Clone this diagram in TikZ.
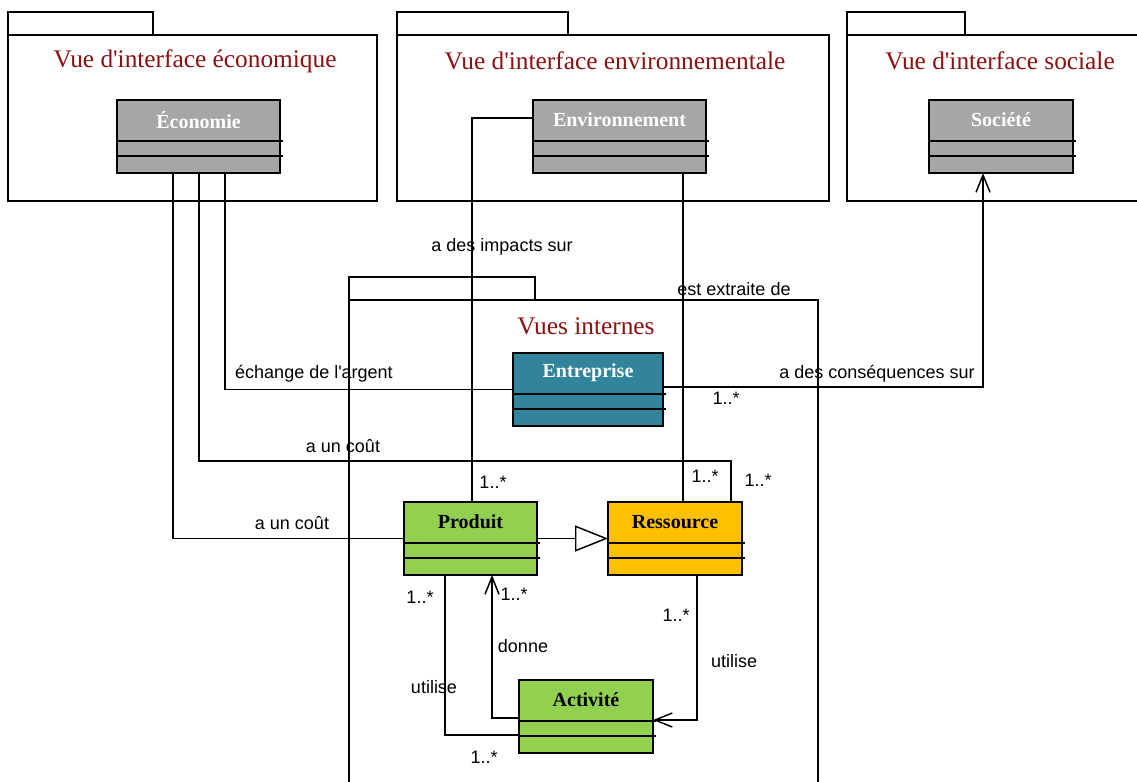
\documentclass[tikz,border=0pt]{standalone}
\usepackage{fontspec}
\setmainfont{Liberation Serif}
\setsansfont{Liberation Sans}
\usetikzlibrary{arrows.meta}

\definecolor{titlered}{RGB}{140,16,16}
\definecolor{greyfill}{RGB}{166,166,166}
\definecolor{tealfill}{RGB}{49,132,155}
\definecolor{greenfill}{RGB}{146,208,80}
\definecolor{amberfill}{RGB}{255,192,0}

\begin{document}
\begin{tikzpicture}[
        x=0.75pt, y=-0.75pt,
        line width=1.1pt,
        every node/.style={inner sep=0pt, outer sep=0pt}
    ]
    \tikzset{
        pkgbody/.style = {draw, rectangle, anchor=north west, minimum height=124.5pt},
        pkgtab/.style = {draw, rectangle, anchor=south west, minimum height=17.25pt},
        pkgtitle/.style = {text=titlered, font=\fontsize{19}{22}\selectfont},
        classbox/.style = {draw, rectangle, anchor=north west, minimum height=54.75pt},
        classtitle/.style = {font=\fontsize{15}{18}\selectfont\bfseries},
        lbl/.style = {font=\sffamily\fontsize{13.5}{16}\selectfont},
        assoc/.style = {-{Straight Barb[length=13pt,width=10.5pt]}},
        generalise/.style = {-{Triangle[open,length=24.75pt,width=19.5pt]}},
    }
    \useasboundingbox (0,0) rectangle (1137,781);

    % packages
    \node[pkgbody, minimum width=276.75pt] (ecoP) at (8,35) {};
    \node[pkgtab, minimum width=108.75pt] (ecoP-tab) at (ecoP.north west) {};
    \node[pkgtitle] (ecoP-t) at (195,61) {Vue d\textquotesingle interface économique};

    \node[pkgbody, minimum width=324pt] (envP) at (397,35) {};
    \node[pkgtab, minimum width=128.25pt] (envP-tab) at (envP.north west) {};
    \node[pkgtitle] (envP-t) at (615,61) {Vue d\textquotesingle interface environnementale};

    \node[pkgbody, minimum width=219.75pt] (socP) at (847,35) {};
    \node[pkgtab, minimum width=88.5pt] (socP-tab) at (socP.north west) {};
    \node[pkgtitle] (socP-t) at (1000,61) {Vue d\textquotesingle interface sociale};

    \node[pkgbody, minimum width=351.75pt, minimum height=363.75pt] (intP) at (349,300) {};
    \node[pkgtab, minimum width=139.5pt] (intP-tab) at (intP.north west) {};
    \node[pkgtitle] (intP-t) at (586,326) {Vues internes};

    % classes
    \node[classbox, fill=greyfill, minimum width=122.25pt] (eco) at (117,100) {};
    \node[classtitle, text=white] (eco-t) at ([yshift=-15pt]eco.north) {Économie};
    \node[classbox, fill=greyfill, minimum width=129.75pt] (env) at (533,100) {};
    \node[classtitle, text=white] (env-t) at ([yshift=-15pt]env.north) {Environnement};
    \node[classbox, fill=greyfill, minimum width=108pt] (soc) at (929,100) {};
    \node[classtitle, text=white] (soc-t) at ([yshift=-15pt]soc.north) {Société};
    \node[classbox, fill=tealfill, minimum width=112.5pt] (ent) at (513,353) {};
    \node[classtitle, text=white] (ent-t) at ([yshift=-15pt]ent.north) {Entreprise};
    \node[classbox, fill=greenfill, minimum width=99.75pt] (prod) at (404,502) {};
    \node[classtitle] (prod-t) at ([yshift=-15pt]prod.north) {Produit};
    \node[classbox, fill=amberfill, minimum width=100.5pt] (res) at (608,502) {};
    \node[classtitle] (res-t) at ([yshift=-15pt]res.north) {Ressource};
    \node[classbox, fill=greenfill, minimum width=100.5pt] (act) at (519,680) {};
    \node[classtitle] (act-t) at ([yshift=-15pt]act.north) {Activité};

    \foreach \c in {eco,env,soc,ent,prod,res,act} {
        \draw ([yshift=-30.75pt]\c.north west) -- ([xshift=2pt,yshift=-30.75pt]\c.north east);
        \draw ([yshift=-42pt]\c.north west) -- ([xshift=2pt,yshift=-42pt]\c.north east);
    }

    % connectors
    \draw ([xshift=42pt]eco.south west) |- (prod.west);
    \draw ([xshift=61.5pt]eco.south west) -- ++(0,288) -| ([xshift=-8.25pt]res.north east);
    \draw ([xshift=81pt]eco.south west) |- (ent.west);
    \draw ([yshift=-13.5pt]env.north west) -| ([xshift=51pt]prod.north west);
    \draw ([xshift=112.5pt]env.south west) -- ([xshift=56.25pt]res.north west);
    \draw[assoc] ([yshift=-25.5pt]ent.north east) -| ([xshift=40.5pt]soc.south west);
    \draw[generalise] (prod.east) -- (res.west);
    \draw[assoc] ([yshift=-28.5pt]act.north west) -| ([xshift=66pt]prod.south west);
    \draw ([xshift=30.75pt]prod.south west) |- ([yshift=-41.25pt]act.north west);
    \draw[assoc] ([xshift=66.75pt]res.south west) |- ([yshift=-30pt]act.north east);

    % labels
    \node[lbl] (l-cout1) at (292,523) {a un coût};
    \node[lbl] (l-cout2) at (343,446) {a un coût};
    \node[lbl] (l-argent) at (314,374) {échange de l\textquotesingle argent};
    \node[lbl] (l-impacts) at (502,247) {a des impacts sur};
    \node[lbl] (l-extraite) at (734,289) {est extraite de};
    \node[lbl] (l-consq) at (877,374) {a des conséquences sur};
    \node[lbl] (l-donne) at (523,646) {donne};
    \node[lbl] (l-utilise1) at (434,687) {utilise};
    \node[lbl] (l-utilise2) at (734,661) {utilise};
    \node[lbl] (m-ent) at (726,398) {1..*};
    \node[lbl] (m-prod) at (493,482) {1..*};
    \node[lbl] (m-res1) at (705,476) {1..*};
    \node[lbl] (m-res2) at (758,480) {1..*};
    \node[lbl] (m-prod2) at (420,597) {1..*};
    \node[lbl] (m-prod3) at (514,594) {1..*};
    \node[lbl] (m-res3) at (676,615) {1..*};
    \node[lbl] (m-act) at (484,757) {1..*};
\end{tikzpicture}
\end{document}
